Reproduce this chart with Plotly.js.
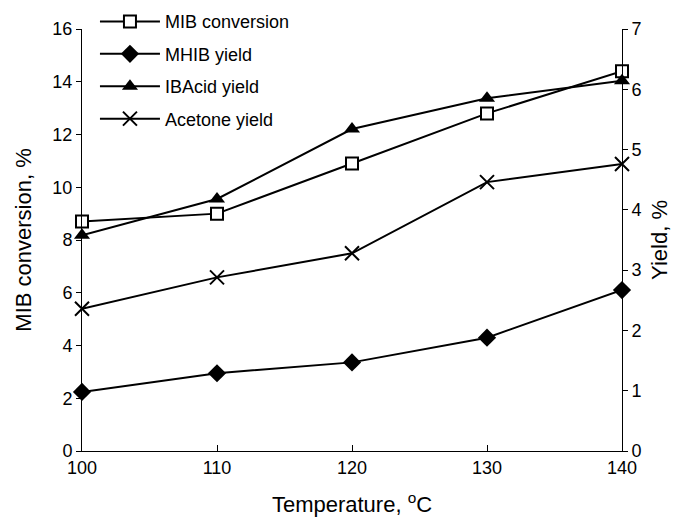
<!DOCTYPE html>
<html>
<head>
<meta charset="utf-8">
<script src="https://cdn.plot.ly/plotly-3.0.1.min.js"></script>
<style>html,body{margin:0;padding:0;background:#fff;}#chart{width:683px;height:526px;}</style>
</head>
<body>
<div id="chart"></div>
<script>
const temperature = [100, 110, 120, 130, 140];
const mibConversion = [8.7, 9.0, 10.9, 12.8, 14.4];
const mhibYield = [0.98, 1.29, 1.47, 1.88, 2.67];
const ibacidYield = [3.58, 4.18, 5.34, 5.85, 6.14];
const acetoneYield = [2.36, 2.88, 3.28, 4.46, 4.76];
const seriesNames = ["MIB conversion", "MHIB yield", "IBAcid yield", "Acetone yield"];

const font = "Liberation Sans, Arial, sans-serif";
const line = {color: "#000", width: 2};

const traces = [
  {x: temperature, y: mibConversion, name: seriesNames[0], yaxis: "y", legendgroup: "a",
   mode: "lines+markers", line: line, cliponaxis: false,
   marker: {symbol: "square", size: 12, color: "#fff", line: {color: "#000", width: 2}}},
  {x: temperature, y: mhibYield, name: seriesNames[1], yaxis: "y2", legendgroup: "b",
   mode: "lines+markers", line: line, cliponaxis: false,
   marker: {symbol: "diamond", size: 14, color: "#000", line: {color: "#000", width: 0}}},
  {x: temperature, y: ibacidYield, name: seriesNames[2], yaxis: "y2", legendgroup: "c",
   mode: "lines+markers", line: line, cliponaxis: false,
   marker: {symbol: "triangle-up", size: 14, color: "#000", line: {color: "#000", width: 0}}},
  {x: temperature, y: acetoneYield, name: seriesNames[3], yaxis: "y2", legendgroup: "d",
   mode: "lines+markers", line: line, cliponaxis: false,
   marker: {symbol: "x-thin", size: 14, color: "#000", line: {color: "#000", width: 2}}}
];

const layout = {
  width: 683, height: 526,
  margin: {l: 82, r: 61, t: 29, b: 75, pad: 0, autoexpand: false},
  paper_bgcolor: "#fff", plot_bgcolor: "#fff",
  font: {family: font, size: 18, color: "#000"},
  showlegend: true,
  legend: {x: 0.024, y: 1.061, xanchor: "left", yanchor: "top", bgcolor: "rgba(0,0,0,0)",
           font: {family: font, size: 18, color: "#000"}, tracegroupgap: 6, itemwidth: 60},
  xaxis: {range: [100, 140], tickvals: temperature, ticktext: temperature.map(String),
          showgrid: false, zeroline: false, showline: true, linecolor: "#000", linewidth: 1,
          ticks: "inside", ticklen: 6, tickcolor: "#000",
          title: {text: "Temperature, <sup>o</sup>C", font: {family: font, size: 22}, standoff: 20}},
  yaxis: {range: [0, 16], dtick: 2, showgrid: false, zeroline: false, showline: true,
          linecolor: "#000", linewidth: 1, ticks: "outside", ticklen: 5, tickcolor: "#000",
          title: {text: "MIB conversion, %", font: {family: font, size: 22}, standoff: 14}},
  yaxis2: {range: [0, 7], dtick: 1, overlaying: "y", side: "right", showgrid: false, zeroline: false,
           showline: true, linecolor: "#000", linewidth: 1, ticks: "outside", ticklen: 5, tickcolor: "#000",
           title: {text: "Yield, %", font: {family: font, size: 22}, standoff: 10}}
};

Plotly.newPlot("chart", traces, layout, {displayModeBar: false, staticPlot: true});
</script>
</body>
</html>
